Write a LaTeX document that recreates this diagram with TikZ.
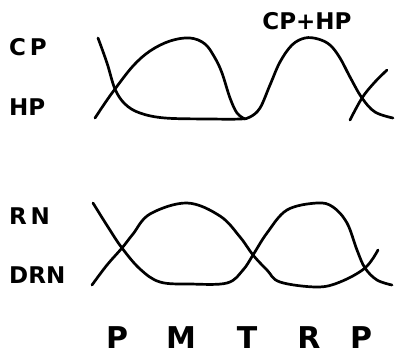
\documentclass[tikz,border=0pt]{standalone}
\usepackage{fontspec}
\setmainfont{DejaVu Sans}
\begin{document}
\begin{tikzpicture}[x=1pt,y=-1pt,
  curve/.style={line width=2.7pt,line cap=round,line join=round},
  lbl/.style={font=\bfseries\fontsize{23}{25}\selectfont,inner sep=0pt},
  phase/.style={font=\bfseries\fontsize{30}{32}\selectfont,inner sep=0pt}]
\useasboundingbox (0,0) rectangle (402,357);
% labels
\node[lbl,anchor=west] (cp) at (9,47) {C\,P};
\node[lbl,anchor=west] (hp) at (9,107) {HP};
\node[lbl] (cphp) at (307,21) {CP+HP};
\node[lbl,anchor=west] (rn) at (9,216) {R\,N};
\node[lbl,anchor=west] (drn) at (9,275) {DRN};
\node[phase] (p1) at (117,338) {P};
\node[phase] (m) at (181,338) {M};
\node[phase] (t) at (247,338) {T};
\node[phase] (r) at (309,338) {R};
\node[phase] (p2) at (361,338) {P};
% top panel
\draw[curve] plot[smooth,tension=0.6] coordinates {(98,38) (107,63) (115,89) (125,104) (140,113) (165,118) (210,119) (240,119) (250,117) (260,108) (270,85) (280,62) (292,45) (305,38) (318,39) (330,45) (340,58) (350,77) (362,98) (375,112) (393,118)};
\draw[curve] plot[smooth,tension=0.6] coordinates {(95,118) (105,103) (115,89) (133,66) (150,51) (170,41) (190,38) (205,44) (215,58) (222,73) (230,98) (237,113) (245,119)};
\draw[curve] plot[smooth,tension=0.6] coordinates {(350,120) (362,98) (374,83) (387,70)};
% bottom panel
\draw[curve] plot[smooth,tension=0.6] coordinates {(93,203) (108,227) (122,248) (140,269) (160,282) (190,284) (227,283) (243,270) (253,255) (267,233) (287,210) (317,203) (333,207) (347,223) (357,250) (365,268) (377,280) (392,285)};
\draw[curve] plot[smooth,tension=0.6] coordinates {(92,285) (107,265) (122,248) (133,234) (150,214) (187,203) (220,216) (240,237) (253,255) (267,270) (280,282) (317,287) (340,282) (365,268) (378,250)};
\end{tikzpicture}
\end{document}
